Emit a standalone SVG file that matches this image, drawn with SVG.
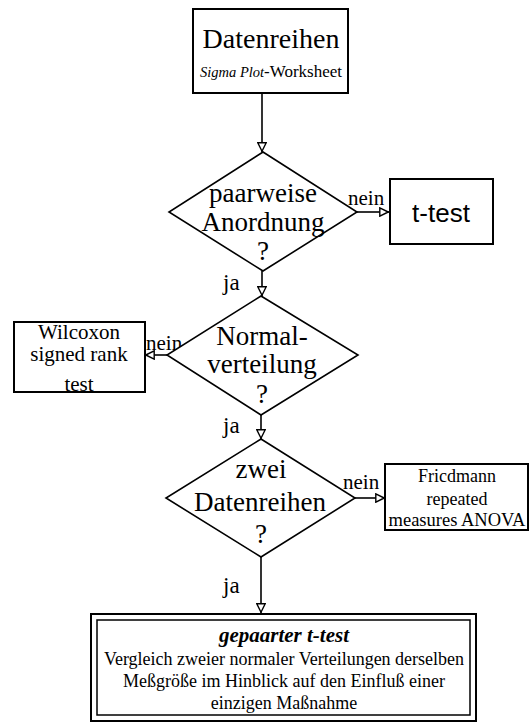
<svg xmlns="http://www.w3.org/2000/svg" width="530" height="724" viewBox="0 0 530 724">
  <style>
    .bg { fill: #ffffff; }
    .box { fill: #ffffff; stroke: #000000; stroke-width: 2; }
    .dia { fill: #ffffff; stroke: #000000; stroke-width: 1.6; }
    .edge { fill: none; stroke: #000000; stroke-width: 1.6; }
    .serif { font-family: "Liberation Serif", "Times New Roman", serif; fill: #000000; }
    .sans { font-family: "Liberation Sans", Arial, sans-serif; fill: #000000; }
    .mid { text-anchor: middle; }
    .q { font-size: 27px; }
    .lbl { font-size: 21px; }
    .ja { font-size: 23px; }
  </style>
  <defs>
    <marker id="open-arrow" viewBox="0 0 10 10" refX="10" refY="5" markerWidth="10" markerHeight="10" markerUnits="userSpaceOnUse" orient="auto">
      <path d="M0.8,0.8 L9.2,5 L0.8,9.2 Z" fill="#ffffff" stroke="#000000" stroke-width="1.4"/>
    </marker>
    <clipPath id="wilcoxon-clip">
      <rect x="14" y="322" width="131" height="70"/>
    </clipPath>
  </defs>

  <rect class="bg" x="0" y="0" width="530" height="724"/>

  <!-- connectors -->
  <g id="connectors">
    <line class="edge" x1="262" y1="93" x2="262" y2="152" marker-end="url(#open-arrow)"/>
    <line class="edge" x1="357" y1="212" x2="389" y2="212" marker-end="url(#open-arrow)"/>
    <line class="edge" x1="262" y1="271" x2="262" y2="296" marker-end="url(#open-arrow)"/>
    <line class="edge" x1="167" y1="355" x2="145" y2="355" marker-end="url(#open-arrow)"/>
    <line class="edge" x1="261" y1="415" x2="261" y2="439" marker-end="url(#open-arrow)"/>
    <line class="edge" x1="355" y1="498" x2="385" y2="498" marker-end="url(#open-arrow)"/>
    <line class="edge" x1="261" y1="557" x2="261" y2="613" marker-end="url(#open-arrow)"/>
    <text class="serif lbl" x="348" y="205">nein</text>
    <text class="serif ja" x="223" y="290">ja</text>
    <text class="serif lbl" x="146" y="350">nein</text>
    <text class="serif ja" x="223" y="433">ja</text>
    <text class="serif lbl" x="343" y="489">nein</text>
    <text class="serif ja" x="223" y="593">ja</text>
  </g>

  <!-- start: data series -->
  <g id="node-datenreihen">
    <rect class="box" x="193" y="9" width="155" height="84"/>
    <text class="serif mid" x="271" y="48" font-size="28">Datenreihen</text>
    <text class="serif mid" x="271" y="77" font-size="17"><tspan font-style="italic" font-size="14.5">Sigma Plot</tspan>-Worksheet</text>
  </g>

  <!-- decision: paired arrangement -->
  <g id="node-paarweise">
    <polygon class="dia" points="263,152 357,212 263,271 169,212"/>
    <text class="serif mid q" x="263" y="202">paarweise</text>
    <text class="serif mid q" x="263" y="231">Anordnung</text>
    <text class="serif mid q" x="263" y="260">?</text>
  </g>

  <!-- result: unpaired t-test -->
  <g id="node-ttest">
    <rect class="box" x="390" y="179" width="103" height="65"/>
    <text class="sans mid" x="441" y="222" font-size="26">t-test</text>
  </g>

  <!-- decision: normal distribution -->
  <g id="node-normalverteilung">
    <polygon class="dia" points="261,296 358,355 261,415 167,355"/>
    <text class="serif mid q" x="262" y="345">Normal-</text>
    <text class="serif mid q" x="262" y="373">verteilung</text>
    <text class="serif mid q" x="262" y="403">?</text>
  </g>

  <!-- result: Wilcoxon (last line runs into the bottom border) -->
  <g id="node-wilcoxon">
    <rect fill="#ffffff" x="14" y="322" width="131" height="70"/>
    <g clip-path="url(#wilcoxon-clip)">
      <text class="serif mid" x="79" y="339" font-size="21">Wilcoxon</text>
      <text class="serif mid" x="79" y="361" font-size="21">signed rank</text>
      <text class="serif mid" x="79" y="391" font-size="21">test</text>
    </g>
    <rect fill="none" stroke="#000000" stroke-width="2" x="14" y="322" width="131" height="70"/>
  </g>

  <!-- decision: two data series -->
  <g id="node-zwei">
    <polygon class="dia" points="261,439 355,498 261,557 166,498"/>
    <text class="serif mid q" x="261" y="478">zwei</text>
    <text class="serif mid q" x="260" y="511">Datenreihen</text>
    <text class="serif mid q" x="261" y="543">?</text>
  </g>

  <!-- result: Friedman -->
  <g id="node-friedman">
    <rect class="box" x="385" y="464" width="143" height="66"/>
    <text class="serif mid" x="457" y="482" font-size="18">Fricdmann</text>
    <text class="serif mid" x="457" y="505" font-size="18">repeated</text>
    <text class="serif mid" x="457" y="526" font-size="18.5">measures ANOVA</text>
  </g>

  <!-- result: paired t-test -->
  <g id="node-gepaarter">
    <rect class="box" x="91" y="614" width="385" height="107"/>
    <rect fill="none" stroke="#000000" stroke-width="1.5" x="97" y="620" width="373" height="95"/>
    <text class="serif mid" x="284" y="642" font-size="21" font-weight="bold" font-style="italic">gepaarter t-test</text>
    <text class="serif mid" x="284" y="665" font-size="18">Vergleich zweier normaler Verteilungen derselben</text>
    <text class="serif mid" x="284" y="687" font-size="18">Meßgröße im Hinblick auf den Einfluß einer</text>
    <text class="serif mid" x="284" y="709" font-size="18">einzigen Maßnahme</text>
  </g>
</svg>
